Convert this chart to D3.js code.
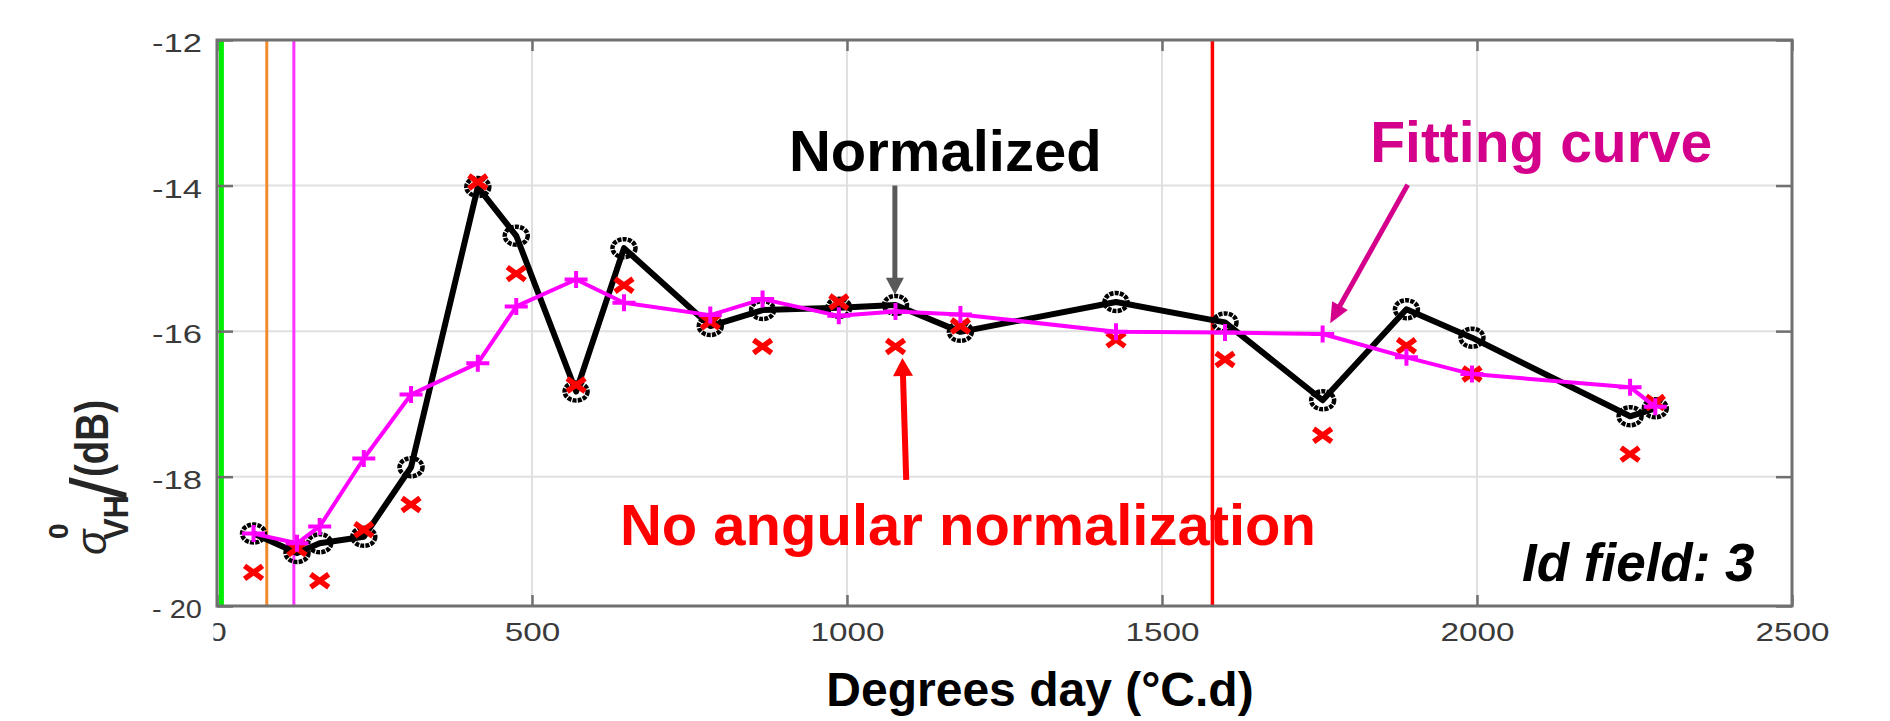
<!DOCTYPE html>
<html>
<head>
<meta charset="utf-8">
<script src="https://cdn.jsdelivr.net/npm/d3@7"></script>
<style>
  html, body { margin: 0; padding: 0; background: #fff; }
  svg { display: block; }
</style>
</head>
<body>
<script>
// acquisition dates, in cumulated degree-days
const degreeDays = [58, 127, 163, 233, 308, 414, 475, 570, 646, 783, 866, 987, 1077, 1180, 1427, 1600, 1755, 1888, 1992, 2243, 2283];

// backscatter (dB) per acquisition
const normalized      = [-18.88, -19.18, -19.03, -18.93, -17.87, -14.02, -14.69, -16.83, -14.86, -15.93, -15.71, -15.68, -15.64, -16.01, -15.60, -15.88, -16.95, -15.70, -16.09, -17.17, -17.06];
const noNormalization = [-19.48, -19.11, -19.61, -18.82, -18.43, -13.95, -15.21, -16.74, -15.37, -15.87, -16.21, -15.60, -16.21, -15.93, -16.12, -16.39, -17.43, -16.20, -16.59, -17.69, -16.98];
const fitting         = [-18.88, -19.03, -18.77, -17.75, -16.87, -16.44, -15.66, -15.29, -15.61, -15.78, -15.56, -15.79, -15.73, -15.77, -16.01, -16.02, -16.04, -16.36, -16.59, -16.77, -17.04];

// phenological stage markers (degree-days)
const stageLines = [
  {value: 7,    color: "#00ee00", width: 5},
  {value: 79,   color: "#f08a2c", width: 3},
  {value: 122,  color: "#ff33ff", width: 3},
  {value: 1580, color: "#ff0000", width: 3.5}
];

// axis ticks
const xTicks = [0, 500, 1000, 1500, 2000, 2500];
const yTicks = [-20, -18, -16, -14, -12];
const yTickLabels = ["- 20", "-18", "-16", "-14", "-12"];

// annotations (data coordinates)
const labels = [
  {text: "Normalized", x: 1156, y: -13.80, color: "#000", size: 58, style: "normal"},
  {text: "Fitting curve", x: 2102, y: -13.67, color: "#d4008c", size: 57, style: "normal"},
  {text: "No angular normalization", x: 1192, y: -19.06, color: "#ff0000", size: 58, style: "normal"},
  {text: "Id field: 3", x: 2256, y: -19.62, color: "#000", size: 53, style: "italic"}
];
const arrows = [
  {from: [1076, -14.0], to: [1076, -15.50], color: "#595959", width: 5, head: 18, len: 17},
  {from: [1094, -18.05], to: [1088, -16.37], color: "#ff0000", width: 6, head: 20, len: 18},
  {from: [1890, -13.99], to: [1767, -15.89], color: "#d4008c", width: 5, head: 18, len: 20}
];

const width = 1890, height = 721;
const font = "'Liberation Sans', Arial, Helvetica, sans-serif";

const x = d3.scaleLinear().domain([0, 2500]).range([217, 1792]);
// the printed axis is not evenly spaced below -18
const y = d3.scaleLinear().domain([-20, -18, -12]).range([606, 476.7, 40]);

const svg = d3.select("body").append("svg")
  .attr("width", width)
  .attr("height", height)
  .attr("font-family", font);

svg.append("rect").attr("width", width).attr("height", height).attr("fill", "#fff");

// grid
const grid = svg.append("g").attr("stroke", "#e0e0e0").attr("stroke-width", 2);
grid.selectAll("line.v").data(xTicks.filter(d => d > 0 && d < 2500)).join("line")
  .attr("class", "v")
  .attr("x1", d => x(d)).attr("x2", d => x(d))
  .attr("y1", y(-12)).attr("y2", y(-20));
grid.selectAll("line.h").data(yTicks.filter(d => d > -20 && d < -12)).join("line")
  .attr("class", "h")
  .attr("x1", x(0)).attr("x2", x(2500))
  .attr("y1", d => y(d)).attr("y2", d => y(d));

// stage lines
svg.append("g").selectAll("line").data(stageLines).join("line")
  .attr("x1", d => x(d.value)).attr("x2", d => x(d.value))
  .attr("y1", y(-12)).attr("y2", y(-20))
  .attr("stroke", d => d.color)
  .attr("stroke-width", d => d.width);

// axes
const axisColor = "#707070";
function styleAxis(g) {
  g.select(".domain").remove();
  g.selectAll(".tick line").attr("stroke", axisColor).attr("stroke-width", 2.5);
  g.selectAll(".tick text").attr("fill", "#3a3a3a").attr("font-size", 25).attr("font-family", font)
    .attr("lengthAdjust", "spacingAndGlyphs");
}

const xAxis = svg.append("g")
  .attr("transform", `translate(0,${y(-20)})`)
  .call(d3.axisBottom(x).tickValues(xTicks).tickSize(-11).tickSizeOuter(0).tickPadding(17).tickFormat(d3.format("d")))
  .call(styleAxis);
xAxis.selectAll(".tick text").attr("textLength", d => String(d).length * 18.5);

// the "0" label is partly hidden by the left edge
svg.append("clipPath").attr("id", "zeroClip")
  .append("rect").attr("x", -4).attr("y", 0).attr("width", 40).attr("height", 60);
xAxis.selectAll(".tick text").filter(d => d === 0).attr("clip-path", "url(#zeroClip)");

svg.append("g")
  .attr("transform", `translate(0,${y(-12)})`)
  .call(d3.axisTop(x).tickValues(xTicks).tickSize(-11).tickSizeOuter(0).tickFormat(""))
  .call(styleAxis);

const yAxis = svg.append("g")
  .attr("transform", `translate(${x(0)},0)`)
  .call(d3.axisLeft(y).tickValues(yTicks).tickSize(-16).tickSizeOuter(0).tickPadding(15)
    .tickFormat((d, i) => yTickLabels[i]))
  .call(styleAxis);
yAxis.selectAll(".tick text").attr("dy", "0.46em").attr("textLength", 50);

svg.append("g")
  .attr("transform", `translate(${x(2500)},0)`)
  .call(d3.axisRight(y).tickValues(yTicks).tickSize(-16).tickSizeOuter(0).tickFormat(""))
  .call(styleAxis);

// box
svg.append("rect")
  .attr("x", x(0)).attr("y", y(-12))
  .attr("width", x(2500) - x(0)).attr("height", y(-20) - y(-12))
  .attr("fill", "none").attr("stroke", axisColor).attr("stroke-width", 3);

// series
const rows = degreeDays.map((d, i) => ({dd: d, norm: normalized[i], raw: noNormalization[i], fit: fitting[i]}));

svg.append("path")
  .datum(rows)
  .attr("fill", "none").attr("stroke", "#000").attr("stroke-width", 6).attr("stroke-linejoin", "round")
  .attr("d", d3.line().x(d => x(d.dd)).y(d => y(d.norm)));
svg.append("g").selectAll("ellipse").data(rows).join("ellipse")
  .attr("cx", d => x(d.dd)).attr("cy", d => y(d.norm))
  .attr("rx", 11.5).attr("ry", 9)
  .attr("fill", "none").attr("stroke", "#000").attr("stroke-width", 4.5)
  .attr("stroke-dasharray", "4,1.2");

svg.append("g").selectAll("path").data(rows).join("path")
  .attr("transform", d => `translate(${x(d.dd)},${y(d.raw)})`)
  .attr("d", "M-9,-6.5L9,6.5M-9,6.5L9,-6.5")
  .attr("stroke", "#ff0000").attr("stroke-width", 5.5);

svg.append("path")
  .datum(rows)
  .attr("fill", "none").attr("stroke", "#ff00ff").attr("stroke-width", 4).attr("stroke-linejoin", "round")
  .attr("d", d3.line().x(d => x(d.dd)).y(d => y(d.fit)));
svg.append("g").selectAll("path").data(rows).join("path")
  .attr("transform", d => `translate(${x(d.dd)},${y(d.fit)})`)
  .attr("d", "M-11.5,0H11.5M0,-8.5V8.5")
  .attr("stroke", "#ff00ff").attr("stroke-width", 4);

// annotation arrows
const arrowG = svg.append("g");
arrows.forEach(a => {
  const x0 = x(a.from[0]), y0 = y(a.from[1]), x1 = x(a.to[0]), y1 = y(a.to[1]);
  const dx = x1 - x0, dy = y1 - y0, n = Math.hypot(dx, dy);
  const ux = dx / n, uy = dy / n;
  const bx = x1 - ux * a.len, by = y1 - uy * a.len;
  arrowG.append("line")
    .attr("x1", x0).attr("y1", y0).attr("x2", bx + ux).attr("y2", by + uy)
    .attr("stroke", a.color).attr("stroke-width", a.width);
  arrowG.append("path")
    .attr("d", `M${x1},${y1}L${bx - uy * a.head / 2},${by + ux * a.head / 2}L${bx + uy * a.head / 2},${by - ux * a.head / 2}Z`)
    .attr("fill", a.color);
});

// annotation texts
svg.append("g").selectAll("text").data(labels).join("text")
  .attr("x", d => x(d.x)).attr("y", d => y(d.y))
  .attr("text-anchor", "middle")
  .attr("font-size", d => d.size)
  .attr("font-weight", "bold")
  .attr("font-style", d => d.style)
  .attr("fill", d => d.color)
  .text(d => d.text);

// axis titles
svg.append("text")
  .attr("x", 1040).attr("y", 706)
  .attr("text-anchor", "middle")
  .attr("font-size", 48).attr("font-weight", "bold").attr("fill", "#000")
  .text("Degrees day (°C.d)");

const yl = svg.append("g")
  .attr("transform", "translate(106,555) rotate(-90)")
  .attr("fill", "#262626");
yl.append("text").attr("x", 0).attr("y", 0)
  .attr("font-size", 42).attr("font-style", "italic").text("σ");
yl.append("text").attr("x", 16).attr("y", -38)
  .attr("font-size", 28).attr("font-weight", "bold").text("0");
yl.append("text").attr("x", 15).attr("y", 22)
  .attr("font-size", 35).attr("font-weight", "bold")
  .attr("textLength", 45).attr("lengthAdjust", "spacingAndGlyphs").text("VH");
yl.append("text").attr("x", 56).attr("y", 20)
  .attr("font-size", 78).text("/");
yl.append("text").attr("x", 78).attr("y", 2)
  .attr("font-size", 46).attr("font-weight", "bold")
  .attr("textLength", 77).attr("lengthAdjust", "spacingAndGlyphs").text("(dB)");
</script>
</body>
</html>
